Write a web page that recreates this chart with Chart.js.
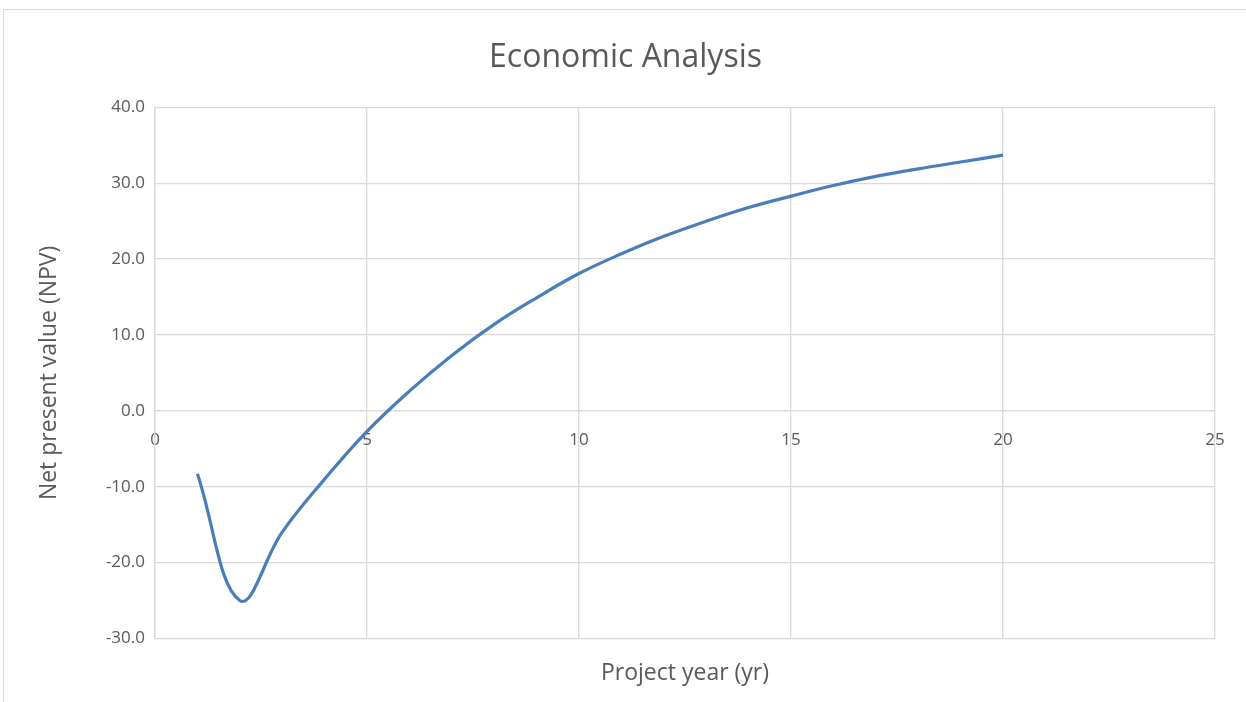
<!DOCTYPE html>
<html>
<head>
<meta charset="utf-8">
<script src="https://cdn.jsdelivr.net/npm/chart.js@4.4.1/dist/chart.umd.min.js"></script>
<style>
  body { margin: 0; background: #fff; }
  #frame { position: absolute; left: 3px; top: 9px; width: 1300px; height: 760px; border: 1px solid #d9d9d9; }
  #chart { position: absolute; left: 0; top: 0; }
</style>
</head>
<body>
<div id="frame"></div>
<canvas id="chart" width="1246" height="702"></canvas>
<script>
let years = [1, 2, 3, 4, 5, 6, 7, 8, 9, 10, 11, 12, 13, 14, 15, 16, 17, 18, 19, 20];
let npv = [-8.3, -25.0, -16.0, -9.0, -2.7, 2.6, 7.3, 11.4, 14.9, 18.1, 20.7, 23.0, 25.0, 26.8, 28.3, 29.7, 30.9, 31.9, 32.8, 33.7];
let xTicks = [0, 5, 10, 15, 20, 25];
let yTicks = [-30, -20, -10, 0, 10, 20, 30, 40];

let textColor = '#595959';
let gridColor = '#d9d9d9';
let fontFamily = "'Open Sans', 'Liberation Sans', sans-serif";

let points = [];
for (let i = 0; i < years.length; i++) {
    points.push({ x: years[i], y: npv[i] });
}

new Chart(document.getElementById('chart'), {
    type: 'scatter',
    data: {
        datasets: [{
            data: points,
            showLine: true,
            borderColor: '#4a7ebb',
            borderWidth: 3.2,
            pointRadius: 0,
            tension: 0.4,
            fill: false
        }]
    },
    options: {
        responsive: false,
        animation: false,
        layout: { padding: { left: 36, right: 31, top: 14, bottom: 11 } },
        plugins: {
            legend: { display: false },
            tooltip: { enabled: false },
            title: {
                display: true,
                text: 'Economic Analysis',
                color: textColor,
                font: { family: fontFamily, size: 32, weight: 'normal' },
                padding: { top: 25, bottom: 30 }
            }
        },
        scales: {
            x: {
                type: 'linear',
                position: { y: 0 },
                min: 0,
                max: 25,
                afterBuildTicks: (scale) => { scale.ticks = xTicks.map(v => ({ value: v })); },
                ticks: {
                    color: textColor,
                    font: { family: fontFamily, size: 17 },
                    padding: 19,
                    maxRotation: 0
                },
                grid: { color: gridColor, lineWidth: 1.3, drawTicks: false },
                border: { color: gridColor, width: 1.3 }
            },
            // bottom axis only carries the axis title, centred under the plot
            xTitle: {
                type: 'linear',
                axis: 'x',
                position: 'bottom',
                min: 0,
                max: 25,
                ticks: { display: false },
                grid: { display: false, drawTicks: false },
                border: { display: false },
                title: {
                    display: true,
                    text: 'Project year (yr)',
                    color: textColor,
                    font: { family: fontFamily, size: 23 },
                    padding: { top: 21, bottom: 4 }
                }
            },
            y: {
                min: -30,
                max: 40,
                afterBuildTicks: (scale) => { scale.ticks = yTicks.map(v => ({ value: v })); },
                afterFit: (scale) => { scale.width = 119; },
                ticks: {
                    color: textColor,
                    font: { family: fontFamily, size: 17 },
                    padding: 10,
                    callback: (v) => v.toFixed(1)
                },
                title: {
                    display: true,
                    text: 'Net present value (NPV)',
                    color: textColor,
                    font: { family: fontFamily, size: 23 },
                    padding: { top: 0, bottom: 7 }
                },
                grid: { color: gridColor, lineWidth: 1.3, drawTicks: false },
                border: { color: gridColor, width: 1.3 }
            }
        }
    }
});
</script>
</body>
</html>
